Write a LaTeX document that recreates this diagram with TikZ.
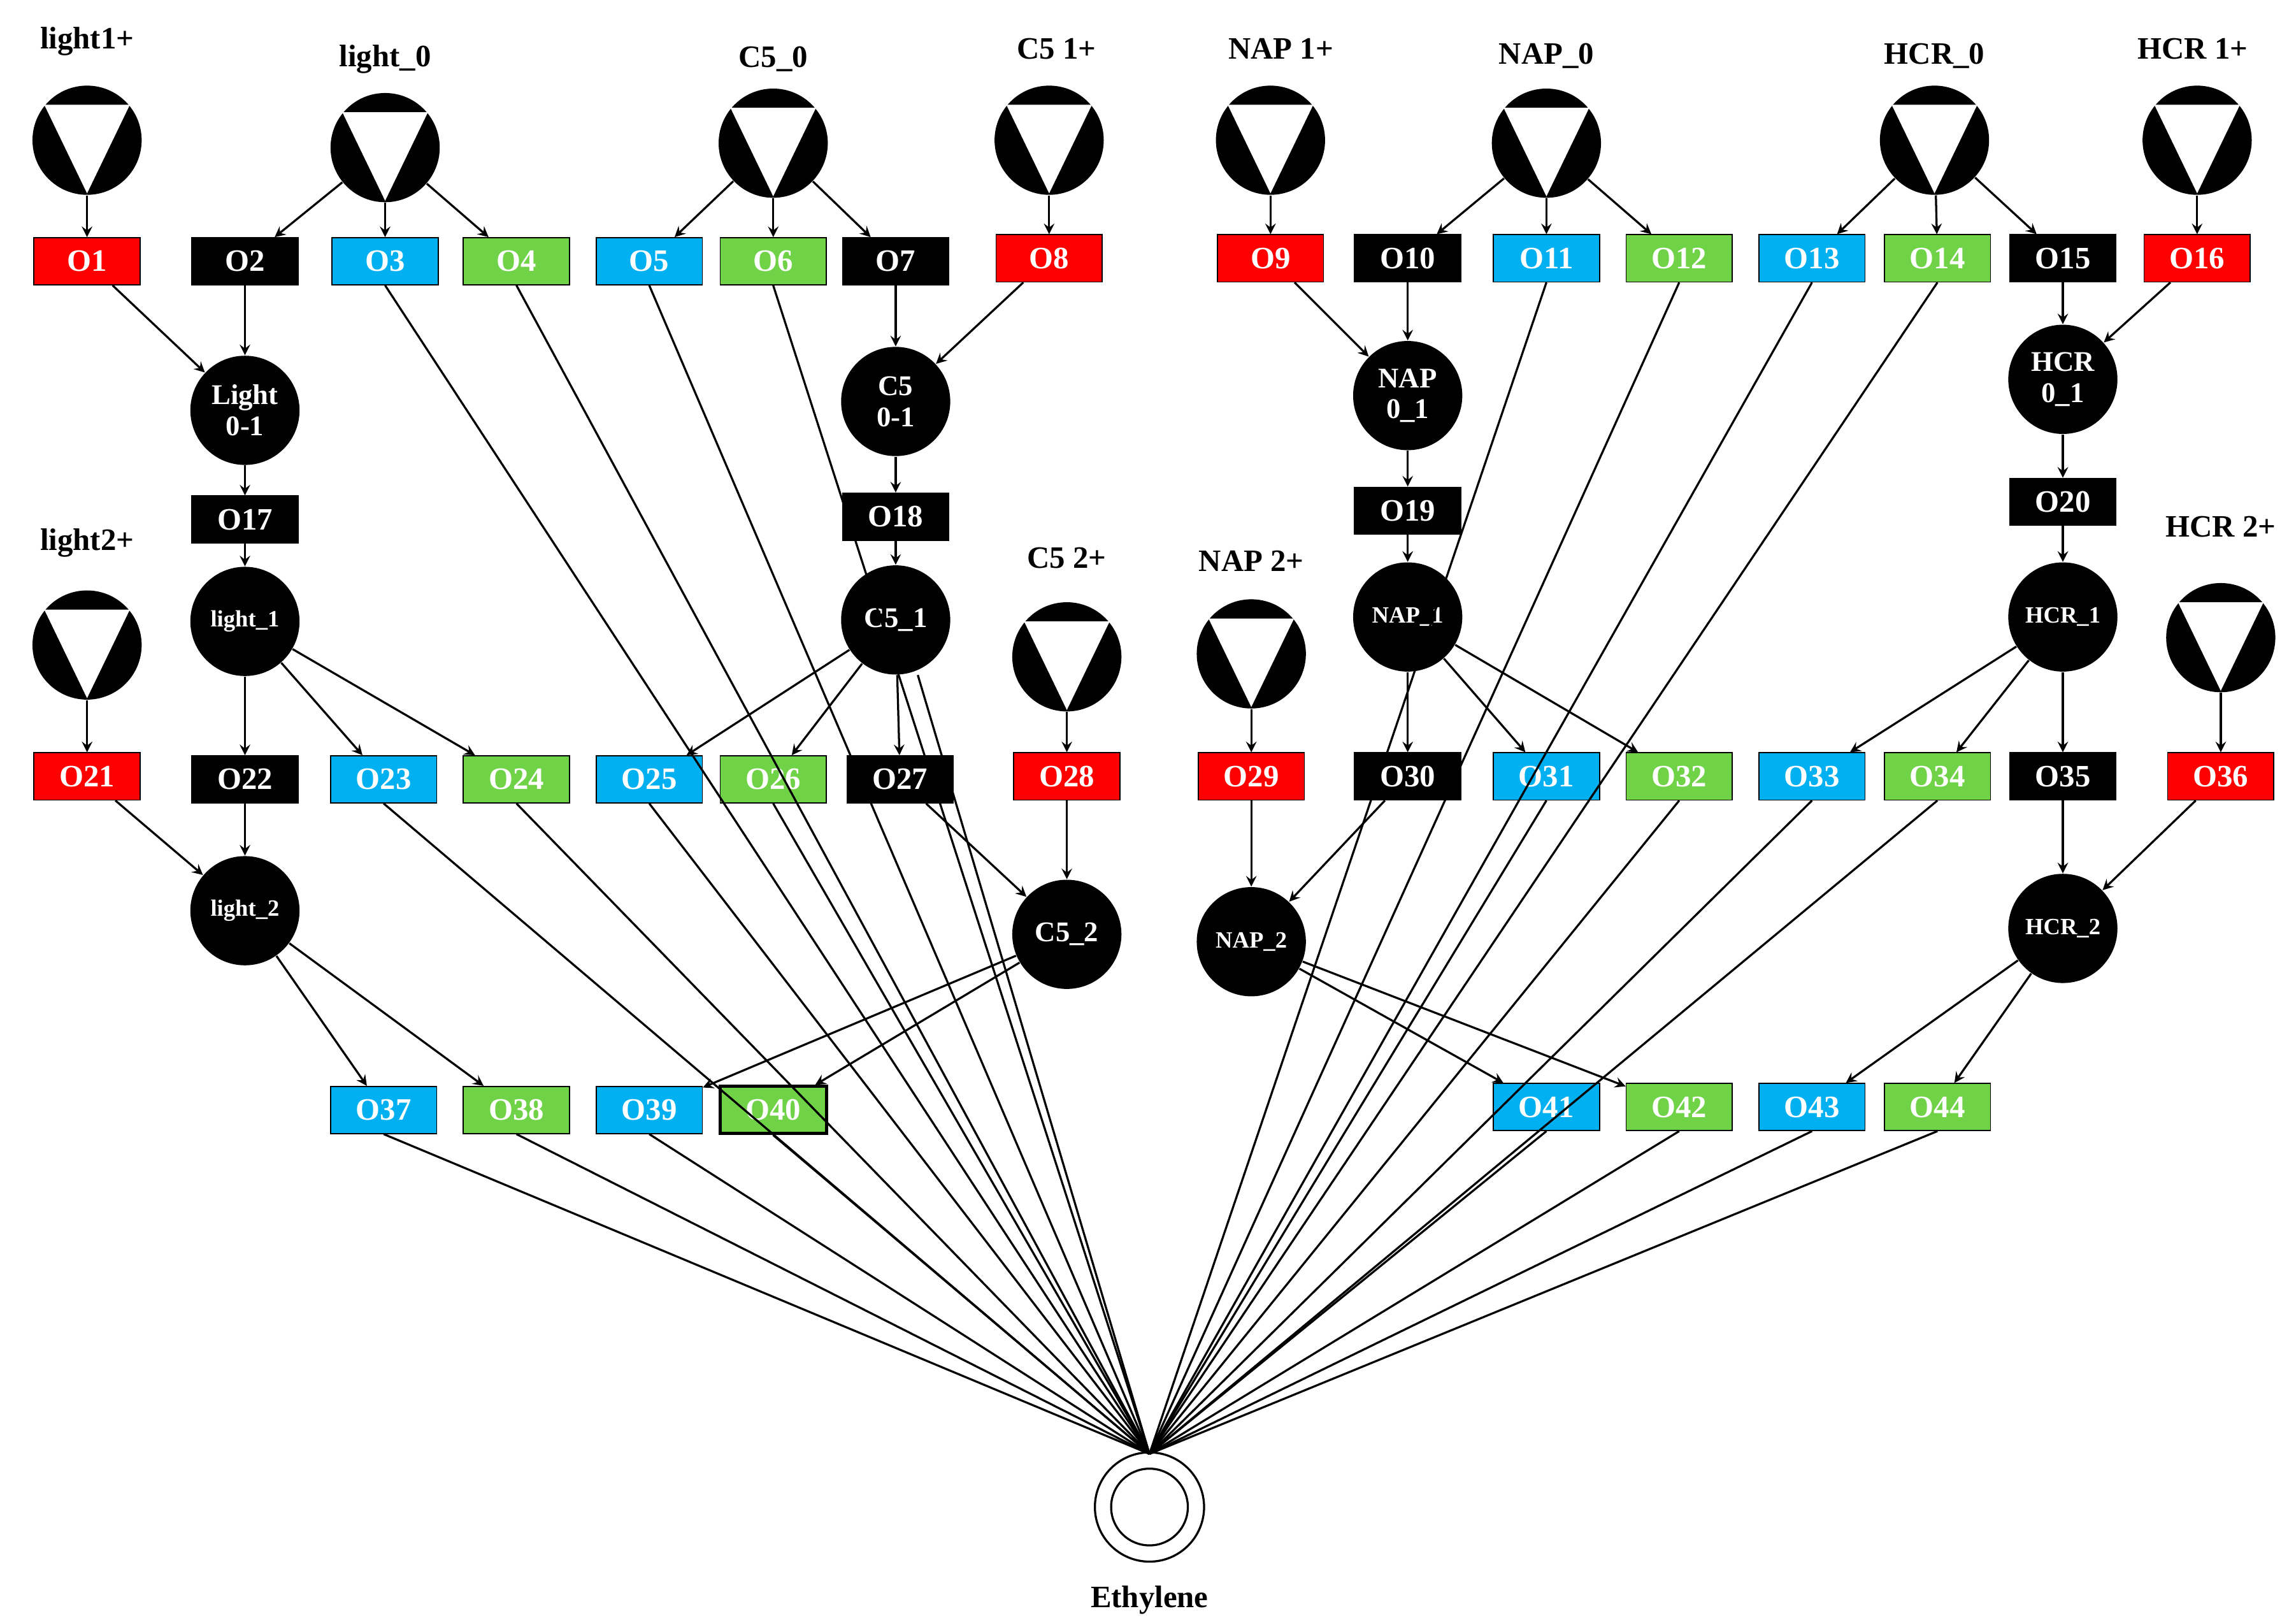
\documentclass[tikz,border=0pt]{standalone}
\usepackage{fontspec}
\setmainfont{Liberation Serif}
\begin{document}
\begin{tikzpicture}[x=0.02cm,y=-0.02cm,
 box/.style={draw=black,minimum width=1.44cm,minimum height=0.64cm,inner sep=0pt,font=\bfseries\fontsize{12}{12}\selectfont,text=white},
 rb/.style={box,fill=red},bb/.style={box,fill=black},cb/.style={box,fill=cyan!70!blue!90},gb/.style={box,fill=green!60!black!60!lime},
 cir/.style={circle,fill=black,minimum size=1.48cm,inner sep=0pt,text=white,font=\bfseries\fontsize{11}{12}\selectfont,align=center},
 lab/.style={font=\bfseries\fontsize{12}{12}\selectfont},
 ar/.style={->,>=stealth,thick},ln/.style={thick}]
\useasboundingbox (0,0) rectangle (1556,1096);
\definecolor{cbl}{RGB}{0,176,240}\definecolor{gbl}{RGB}{112,210,70}
\tikzset{cb/.style={box,fill=cbl},gb/.style={box,fill=gbl}}
\newcommand{\src}[4]{\node[cir] (#1) at (#2,#3) {};
 \fill[white] ($(#1)+(-29,-24)$) -- ($(#1)+(29,-24)$) -- ($(#1)+(0,36)$) -- cycle;}
\newcommand{\srcx}[5]{\src{#1}{#2}{#3}{}\node[lab] at (#4,#5) {};}
% sources
\foreach \n/\x/\y/\lx/\ly/\t in {s1/59/95/59/28/light1+, s2/261/100/261/40/light\_0, s3/524/97/524/40/C5\_0, s4/711/95/716/33/C5 1+, s5/861/95/868/33/NAP 1+, s6/1048/97/1048/38/NAP\_0, s7/1311/95/1311/38/HCR\_0, s8/1489/95/1486/33/HCR 1+, s9/59/437/59/368/light2+, s10/723/445/723/378/C5 2+, s11/848/443/848/380/NAP 2+, s12/1505/432/1505/357/HCR 2+}{
 \node[cir] (\n) at (\x,\y) {};
 \fill[white] (\x-29,\y-24) -- (\x+29,\y-24) -- (\x,\y+36) -- cycle;
 \node[lab] at (\lx,\ly) {\t};}
% row boxes
\foreach \n/\s/\x/\y in {1/rb/59/177,2/bb/166/177,3/cb/261/177,4/gb/350/177,5/cb/440/177,6/gb/524/177,7/bb/607/177,8/rb/711/175,9/rb/861/175,10/bb/954/175,11/cb/1048/175,12/gb/1138/175,13/cb/1228/175,14/gb/1313/175,15/bb/1398/175,16/rb/1489/175,
17/bb/166/352,18/bb/607/350,19/bb/954/346,20/bb/1398/340,
21/rb/59/526,22/bb/166/528,23/cb/260/528,24/gb/350/528,25/cb/440/528,26/gb/524/528,27/bb/610/528,28/rb/723/526,29/rb/848/526,30/bb/954/526,31/cb/1048/526,32/gb/1138/526,33/cb/1228/526,34/gb/1313/526,35/bb/1398/526,36/rb/1505/526,
37/cb/260/752,38/gb/350/752,39/cb/440/752,41/cb/1048/750,42/gb/1138/750,43/cb/1228/750,44/gb/1313/750}
 {\node[\s] (O\n) at (\x,\y) {O\n};}
\node[gb,very thick] (O40) at (524,752) {O40};
% intermediate circles
\node[cir] (L01) at (166,278) {Light\\0-1};
\node[cir] (C01) at (607,272) {C5\\0-1};
\node[cir] (N01) at (954,268) {NAP\\0\_1};
\node[cir] (H01) at (1398,257) {HCR\\0\_1};
\node[cir,font=\bfseries\fontsize{9}{10}\selectfont] (L1) at (166,421) {light\_1};
\node[cir] (C1) at (607,420) {C5\_1};
\node[cir,font=\bfseries\fontsize{9}{10}\selectfont] (N1) at (954,418) {NAP\_1};
\node[cir,font=\bfseries\fontsize{9}{10}\selectfont] (H1) at (1398,418) {HCR\_1};
\node[cir,font=\bfseries\fontsize{9}{10}\selectfont] (L2) at (166,617) {light\_2};
\node[cir] (C2) at (723,633) {C5\_2};
\node[cir,font=\bfseries\fontsize{9}{10}\selectfont] (N2) at (848,638) {NAP\_2};
\node[cir,font=\bfseries\fontsize{9}{10}\selectfont] (H2) at (1398,629) {HCR\_2};
% ethylene
\node[circle,draw,thick,minimum size=1.48cm] (E) at (779,1021) {};
\node[circle,draw,thick,minimum size=1.04cm] at (779,1021) {};
\node[lab] at (779,1084) {Ethylene};
\coordinate (Et) at (779,985);
% arrows
\foreach \a/\b in {s1/O1,s2/O2,s2/O3,s2/O4,s3/O5,s3/O6,s3/O7,s4/O8,s5/O9,s6/O10,s6/O11,s6/O12,s7/O13,s7/O14,s7/O15,s8/O16,
 O1/L01,O2/L01,O7/C01,O8/C01,O9/N01,O10/N01,O15/H01,O16/H01,
 L01/O17,C01/O18,N01/O19,H01/O20,O17/L1,O18/C1,O19/N1,O20/H1,
 L1/O22,L1/O23,L1/O24,C1/O25,C1/O26,C1/O27,N1/O30,N1/O31,N1/O32,H1/O33,H1/O34,H1/O35,
 s9/O21,s10/O28,s11/O29,s12/O36,
 O21/L2,O22/L2,O27/C2,O28/C2,O29/N2,O30/N2,O35/H2,O36/H2,
 L2/O37,L2/O38,C2/O39,C2/O40,N2/O41,N2/O42,H2/O43,H2/O44}
 {\draw[ar] (\a) -- (\b);}
% lines to ethylene
\foreach \a in {O3,O4,O5,O6,O11,O12,O13,O14,O23,O24,O25,O26,O31,O32,O33,O34,O37,O38,O39,O40,O41,O42,O43,O44}
 {\draw[ln] (\a.south) -- (Et);}
\draw[ln] (C1.south) ++(15,0) -- (Et);
\end{tikzpicture}
\end{document}
